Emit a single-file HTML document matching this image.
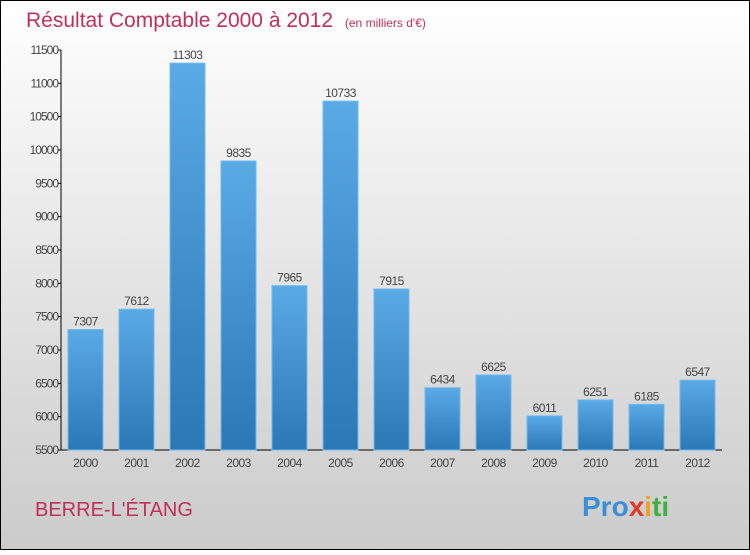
<!DOCTYPE html>
<html><head><meta charset="utf-8"><style>
body{margin:0;width:750px;height:550px;overflow:hidden;font-family:"Liberation Sans",sans-serif}
</style></head><body>
<svg width="750" height="550" xmlns="http://www.w3.org/2000/svg">
<defs>
<linearGradient id="bg" x1="0" y1="0" x2="0" y2="1"><stop offset="0" stop-color="#ffffff"/><stop offset="1" stop-color="#cbcbcb"/></linearGradient>
<linearGradient id="bar" x1="0" y1="0" x2="0" y2="1"><stop offset="0" stop-color="#5aaae6"/><stop offset="1" stop-color="#2a78b6"/></linearGradient>
</defs>
<rect x="0.5" y="0.5" width="749" height="549" fill="url(#bg)" stroke="#000"/>
<text x="26" y="27" font-size="21" fill="#c0305a">Résultat Comptable 2000 à 2012 <tspan font-size="12" dx="6">(en milliers d'€)</tspan></text>
<g id="yaxis"></g>
<g id="bars"></g>
<text x="35" y="516" font-size="20" fill="#c0305a">BERRE-L'ÉTANG</text>
<text x="582" y="516" font-size="28" font-weight="bold"><tspan fill="#3a8fd6">Pro</tspan><tspan fill="#e03a2a">x</tspan><tspan fill="#f0a020">i</tspan><tspan fill="#40b040">ti</tspan></text>
</svg>
<script>
const years=["2000","2001","2002","2003","2004","2005","2006","2007","2008","2009","2010","2011","2012"];
const values=[7307,7612,11303,9835,7965,10733,7915,6434,6625,6011,6251,6185,6547];
const yTicks=[5500,6000,6500,7000,7500,8000,8500,9000,9500,10000,10500,11000,11500];
const NS="http://www.w3.org/2000/svg";
const y0=450,y1=50,vmin=5500,vmax=11500,x0=61,step=51,bw=35,first=68;
const Y=v=>y0-(v-vmin)/(vmax-vmin)*(y0-y1);
function mk(t,a,p){const e=document.createElementNS(NS,t);for(const k in a)e.setAttribute(k,a[k]);p.appendChild(e);return e;}
const ya=document.getElementById('yaxis');
const ax=mk('line',{x1:x0,y1:y1,x2:x0,y2:y0,stroke:'#000'},ya);


const xa=mk('line',{x1:x0,y1:y0,x2:722,y2:y0,stroke:'#000'},ya);


yTicks.forEach(v=>{
 mk('line',{x1:x0-3,y1:Y(v),x2:x0,y2:Y(v),stroke:'#000'},ya);
 const t=mk('text',{x:x0-3,y:Y(v)+4,'font-size':12,fill:'#444','text-anchor':'end','letter-spacing':'-1'},ya);
 t.textContent=v;
 
 
});
const bg=document.getElementById('bars');
values.forEach((v,i)=>{
 const x=first+i*step;
 const r=mk('rect',{x:x,y:Y(v),width:bw,height:y0-Y(v),fill:'url(#bar)',stroke:'#6fbaf0','stroke-width':1},bg);
 
 
 const l=mk('text',{x:x+bw/2,y:Y(v)-4,'font-size':12,fill:'#444','text-anchor':'middle','letter-spacing':'-0.5'},bg);
 l.textContent=v;
 
 
 const xl=mk('text',{x:x+bw/2,y:467,'font-size':12,fill:'#444','text-anchor':'middle','letter-spacing':'-0.5'},bg);
 xl.textContent=years[i];
 
 
});
</script>
</body></html>
